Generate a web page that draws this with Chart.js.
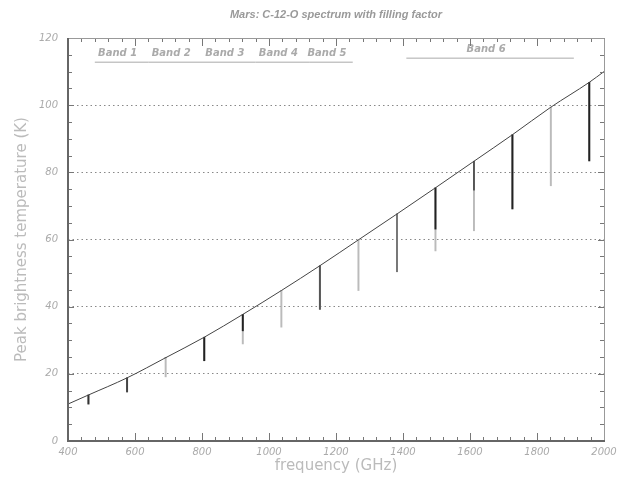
<!DOCTYPE html>
<html>
<head>
<meta charset="utf-8">
<title>Mars C-12-O spectrum</title>
<script src="https://cdn.jsdelivr.net/npm/chart.js@4.4.1/dist/chart.umd.min.js"></script>
<style>
    html, body { margin: 0; padding: 0; background: #fff; }
    #wrap { width: 624px; height: 480px; }
</style>
</head>
<body>
<div id="wrap"><canvas id="myChart-co"></canvas></div>
<script>
// peak brightness curve (GHz, K)
var curveFreq = [400, 461.0, 576.3, 691.5, 806.7, 921.8, 1036.9, 1152.0, 1267.0, 1382.0, 1496.9, 1611.8, 1726.6, 1841.3, 1956.0, 2000]
var curveTemp = [11.0, 13.7, 18.8, 24.8, 30.9, 37.7, 44.8, 52.2, 59.9, 67.6, 75.4, 83.3, 91.2, 99.4, 106.8, 110.0]

// CO rotational lines: top of line, where the dark part stops, bottom of line
var lineFreq = [461.0, 576.3, 691.5, 806.7, 921.8, 1036.9, 1152.0, 1267.0, 1382.0, 1496.9, 1611.8, 1726.6, 1841.3, 1956.0]
var lineTop = [13.7, 18.8, 24.8, 30.9, 37.7, 44.8, 52.2, 59.9, 67.6, 75.4, 83.3, 91.2, 99.4, 106.8]
var lineSplit = [11.0, 14.6, 24.8, 23.9, 32.8, 44.8, 39.2, 59.9, 50.4, 63.1, 74.7, 69.1, 99.4, 83.4]
var lineFloor = [11.0, 14.6, 19.1, 23.9, 28.9, 33.9, 39.2, 44.8, 50.4, 56.6, 62.6, 69.1, 76.0, 83.4]

// HIFI bands
var bandNames = ['Band 1', 'Band 2', 'Band 3', 'Band 4', 'Band 5', 'Band 6']
var bandStart = [480, 640, 800, 960, 1120, 1410]
var bandEnd = [640, 800, 960, 1120, 1250, 1910]
var bandLevel = [112.8, 112.8, 112.8, 112.8, 112.8, 114.0]

var xTicks = [400, 600, 800, 1000, 1200, 1400, 1600, 1800, 2000]
var yTicks = [0, 20, 40, 60, 80, 100, 120]

var darkColors = ['#333', '#444', '#444', '#222', '#222', '#aaa', '#555', '#bbb', '#777', '#222', '#555', '#222', '#bbb', '#222']

var tickFont = { family: 'DejaVu Sans', size: 10, style: 'italic' }

// tick marks pointing into the plot on all four sides, plus the frame
var frameTicks = {
    id: 'frameTicks',
    afterDraw(chart) {
        const ctx = chart.ctx
        const a = chart.chartArea
        const x = chart.scales.x
        const y = chart.scales.y
        ctx.save()
        ctx.lineWidth = 1
        ctx.strokeStyle = '#777'
        for (let f = 400; f <= 2000; f += 40) {
            const px = Math.round(x.getPixelForValue(f)) + 0.5
            const len = (f % 200 === 0) ? 8 : 4
            ctx.beginPath()
            ctx.moveTo(px, a.bottom); ctx.lineTo(px, a.bottom - len)
            ctx.moveTo(px, a.top); ctx.lineTo(px, a.top + len)
            ctx.stroke()
        }
        for (let t = 0; t <= 120; t += 5) {
            const py = Math.round(y.getPixelForValue(t)) + 0.5
            const len = (t % 20 === 0) ? 6 : 4
            ctx.beginPath()
            ctx.moveTo(a.left, py); ctx.lineTo(a.left + len, py)
            ctx.moveTo(a.right, py); ctx.lineTo(a.right - len, py)
            ctx.stroke()
        }
        // top and right are thin, left and bottom heavier
        ctx.strokeStyle = '#999'
        ctx.beginPath()
        ctx.moveTo(a.left, a.top + 0.5); ctx.lineTo(a.right + 0.5, a.top + 0.5)
        ctx.lineTo(a.right + 0.5, a.bottom)
        ctx.stroke()
        ctx.strokeStyle = '#666'
        ctx.lineWidth = 2
        ctx.beginPath()
        ctx.moveTo(a.left, a.top); ctx.lineTo(a.left, a.bottom); ctx.lineTo(a.right + 1, a.bottom)
        ctx.stroke()
        ctx.restore()
    }
}

// band names above the band lines
var bandLabels = {
    id: 'bandLabels',
    afterDatasetsDraw(chart) {
        const ctx = chart.ctx
        const x = chart.scales.x
        const y = chart.scales.y
        ctx.save()
        ctx.font = 'italic bold 10px "DejaVu Sans"'
        ctx.fillStyle = '#aaa'
        ctx.textAlign = 'center'
        ctx.textBaseline = 'middle'
        bandNames.forEach((name, i) => {
            const cx = x.getPixelForValue((bandStart[i] + bandEnd[i]) / 2) - 4
            const cy = y.getPixelForValue(bandLevel[i]) - 9
            ctx.fillText(name, cx, cy)
        })
        ctx.restore()
    }
}

var datasets = [{
    type: 'line',
    label: 'Peak temperature',
    data: curveFreq.map((f, i) => ({ x: f, y: curveTemp[i] })),
    borderColor: '#444',
    borderWidth: 1,
    pointRadius: 0,
    cubicInterpolationMode: 'monotone',
    order: 0
}, {
    type: 'bar',
    label: 'full line',
    data: lineFreq.map((f, i) => ({ x: f, y: [lineFloor[i], lineTop[i]] })),
    backgroundColor: '#bbb',
    barThickness: 1.3,
    grouped: false,
    order: 2
}, {
    type: 'bar',
    label: 'with filling factor',
    data: lineFreq.map((f, i) => ({ x: f, y: [lineSplit[i], lineTop[i]] })),
    backgroundColor: darkColors,
    barThickness: 1.3,
    grouped: false,
    order: 1
}]

bandNames.forEach((name, i) => {
    datasets.push({
        type: 'line',
        label: name,
        data: [{ x: bandStart[i], y: bandLevel[i] }, { x: bandEnd[i], y: bandLevel[i] }],
        borderColor: '#aaa',
        borderWidth: 1,
        pointRadius: 0,
        order: 3
    })
})

var ctx = document.getElementById('myChart-co').getContext('2d')
var chart = new Chart(ctx, {
    type: 'bar',
    data: { datasets: datasets },
    plugins: [frameTicks, bandLabels],
    options: {
        responsive: true,
        maintainAspectRatio: false,
        animation: false,
        layout: { padding: { left: 0, right: 20, top: 0, bottom: 0 } },
        plugins: {
            legend: { display: false },
            tooltip: { enabled: false },
            title: {
                display: true,
                fullSize: false,
                text: 'Mars: C-12-O spectrum with filling factor',
                color: '#999',
                font: { family: 'Liberation Sans', size: 11, style: 'italic', weight: 'bold' },
                padding: { top: 8, bottom: 16.8 }
            }
        },
        scales: {
            x: {
                type: 'linear',
                min: 400,
                max: 2000,
                offset: false,
                afterFit: s => { s.height = 39 },
                afterBuildTicks: s => { s.ticks = xTicks.map(v => ({ value: v })) },
                grid: { display: false, drawTicks: false },
                border: { display: false },
                ticks: {
                    color: '#aaa', font: tickFont, padding: 5, maxRotation: 0, autoSkip: false,
                    callback: v => String(v)
                },
                title: {
                    display: true,
                    text: 'frequency (GHz)',
                    color: '#bbb',
                    font: { family: 'DejaVu Sans', size: 15 },
                    padding: { top: 2, bottom: 5 }
                }
            },
            y: {
                min: 0,
                max: 120,
                afterFit: s => { s.width = 68 },
                afterBuildTicks: s => { s.ticks = yTicks.map(v => ({ value: v })) },
                grid: {
                    drawTicks: false,
                    lineWidth: 1,
                    color: c => (c.tick.value === 0 || c.tick.value === 120) ? 'rgba(0,0,0,0)' : '#888'
                },
                border: { display: false, dash: [1.5, 3] },
                ticks: { color: '#aaa', font: tickFont, padding: 10, callback: v => String(v) },
                title: {
                    display: true,
                    text: 'Peak brightness temperature (K)',
                    color: '#bbb',
                    font: { family: 'DejaVu Sans', size: 15 },
                    padding: { top: 13, bottom: 4 }
                }
            }
        }
    }
})
</script>
</body>
</html>
